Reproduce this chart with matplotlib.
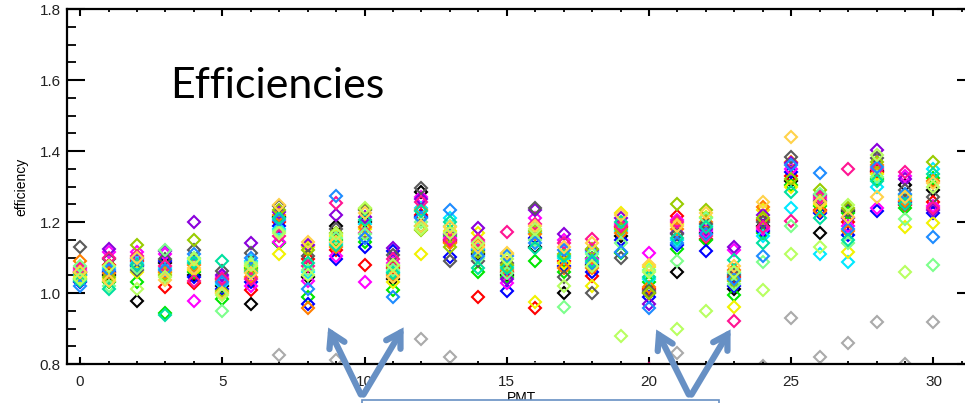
import numpy as np
import matplotlib
matplotlib.use('Agg')
import matplotlib.pyplot as plt
from matplotlib.patches import FancyArrowPatch, Rectangle

nan = np.nan

# PMT index on the x axis
pmt = list(range(31))

# efficiency per run, one list per run colour (value for PMT 0..30)
black = [1.05, 1.05, 0.978, 1.085, 1.05, 1.02, 0.969, 1.215, 1.045, 1.19, 1.20, 1.04, 1.285, 1.15, 1.11, 1.05,
         1.13, 0.999, 1.08, 1.16, 1.0, 1.06, 1.17, 1.01, 1.19, 1.315, 1.17, 1.23, 1.345, 1.305, 1.29]
red = [1.06, 1.08, 1.09, 1.016, 1.027, 1.04, 1.008, 1.20, 1.095, 1.12, 1.079, 1.07, 1.22, 1.145, 0.99, 1.06,
       0.957, 1.09, 1.048, 1.185, 1.01, 1.217, 1.151, 1.045, 1.205, 1.33, 1.234, 1.2, 1.34, 1.248, 1.255]
green = [1.04, 1.03, 1.032, 0.945, 1.06, 0.982, 1.07, 1.14, 0.99, 1.15, 1.145, 1.008, 1.19, 1.16, 1.06, 1.045,
         1.09, 1.06, 1.10, 1.112, 1.03, 1.125, 1.148, 0.995, 1.17, 1.305, 1.245, 1.225, 1.32, 1.24, 1.325]
blue = [1.03, 1.06, 1.075, 1.09, 1.045, 1.01, 1.03, 1.19, 0.97, 1.095, 1.13, 1.118, 1.215, 1.102, 1.12, 1.006,
        1.155, 1.075, 1.06, 1.15, 0.99, 1.135, 1.119, 1.02, 1.175, 1.34, 1.225, 1.163, 1.23, 1.255, 1.225]
magenta = [1.065, 1.115, 1.115, 1.11, 0.978, 1.045, 1.02, 1.145, 1.035, 1.105, 1.032, 1.085, 1.27, 1.155, 1.145,
           1.027, 1.21, 1.15, 1.095, 1.195, 1.114, 1.205, 1.175, 1.122, 1.18, 1.35, 1.265, 1.19, 1.239, 1.33, 1.245]
cyan = [1.05, 1.07, 1.085, 1.07, 1.09, 1.025, 1.09, 1.18, 1.06, 1.14, 1.195, 1.06, 1.24, 1.21, 1.125, 1.075,
        1.17, 1.1, 1.115, 1.175, 1.04, 1.15, 1.19, 1.055, 1.16, 1.239, 1.11, 1.088, 1.30, 1.265, 1.35]
yellow = [1.045, 1.04, 1.06, 1.055, 1.065, 1.0, 1.075, 1.11, 1.13, 1.16, 1.18, 1.03, 1.109, 1.175, 1.168, 1.11,
          0.975, 1.085, 1.021, 1.224, 1.072, 1.195, 1.215, 0.96, 1.235, 1.30, 1.25, 1.116, 1.335, 1.185, 1.198]
orange = [1.09, 1.055, 1.10, 1.06, 1.08, 1.035, 1.045, 1.22, 0.957, 1.13, 1.187, 1.05, 1.235, 1.14, 1.135, 1.065,
          1.165, 1.07, 1.07, 1.17, 1.018, 1.18, 1.2, 1.065, 1.243, 1.37, 1.23, 1.175, 1.36, 1.26, 1.315]
purple = [1.06, 1.125, 1.08, 1.117, 1.199, 1.05, 1.142, 1.229, 1.136, 1.22, 1.215, 1.126, 1.265, 1.165, 1.184,
          1.04, 1.233, 1.166, 1.12, 1.21, 0.968, 1.17, 1.18, 1.13, 1.22, 1.365, 1.275, 1.21, 1.403, 1.32, 1.235]
dgray = [1.13, 1.095, 1.065, 1.095, 1.122, 1.063, 1.114, 1.244, 1.105, 1.18, 1.234, 1.108, 1.295, 1.09, 1.09,
         1.085, 1.24, 1.046, 0.999, 1.098, 1.005, 1.165, 1.195, 1.05, 1.2, 1.384, 1.26, 1.235, 1.38, 1.29, 1.271]
ygreen = [1.055, 1.045, 1.135, 1.05, 1.149, 1.005, 1.065, 1.235, 1.12, 1.17, 1.237, 1.075, 1.177, 1.13, 1.115,
          1.08, 1.175, 1.11, 1.125, 1.18, 1.0, 1.251, 1.234, 1.035, 1.21, 1.32, 1.29, 1.24, 1.37, 1.275, 1.37]
dpink = [1.07, 1.10, 1.105, 1.075, 1.035, 1.04, 1.04, 1.16, 1.075, 1.253, 1.17, 1.095, 1.255, 1.15, 1.15, 1.171,
         1.195, 1.14, 1.151, 1.19, 0.785, 1.2, 1.16, 0.921, 1.185, 1.204, 1.27, 1.348, 1.35, 1.34, 1.24]
lgreen = [1.075, 1.02, 1.07, 1.122, 1.10, 0.95, 1.085, 1.175, 1.065, 1.155, 1.165, 1.065, 1.2, 1.19, 1.10, 1.055,
          1.15, 0.961, 1.11, 1.14, 1.065, 1.091, 1.21, 1.025, 1.088, 1.19, 1.28, 1.14, 1.328, 1.208, 1.079]
dblue = [1.02, 1.065, 1.095, 1.065, 1.11, 1.03, 1.10, 1.205, 1.012, 1.273, 1.155, 0.99, 1.21, 1.234, 1.105, 1.105,
         1.14, 1.12, 1.085, 1.116, 0.957, 1.14, 1.165, 1.04, 1.104, 1.36, 1.339, 1.18, 1.355, 1.28, 1.159]
spring = [1.035, 1.01, 1.08, 0.938, 1.085, 1.091, 1.06, 1.21, 1.085, 1.135, 1.205, 1.055, 1.23, 1.2, 1.07, 1.07,
          1.128, 1.105, 1.09, 1.2, 1.045, 1.155, 1.185, 1.093, 1.14, 1.285, 1.21, 1.15, 1.315, 1.25, 1.335]
gold = [1.06, 1.035, 1.10, 1.037, 1.07, 1.0, 1.055, 1.248, 1.145, 1.145, 1.225, 1.045, 1.19, 1.185, 1.13, 1.112,
        1.19, 1.13, 1.14, 1.22, 1.08, 1.19, 1.225, 1.075, 1.257, 1.439, 1.255, 1.215, 1.27, 1.27, 1.31]
lime = [1.04, 1.075, 1.01, 1.045, 1.095, 0.995, 1.08, 1.17, 1.05, 1.165, 1.24, 1.08, 1.18, 1.17, 1.14, 1.095,
        1.18, 1.02, 1.075, 0.88, 1.058, 0.90, 0.95, 1.06, 1.008, 1.109, 1.13, 1.248, 1.39, 1.06, 1.30]
lgray = [nan, nan, nan, nan, nan, nan, nan, 0.825, nan, 0.81, nan, nan, 0.87, 0.821, nan, nan,
         0.785, nan, nan, nan, nan, 0.83, nan, nan, 0.795, 0.929, 0.82, 0.86, 0.919, 0.80, 0.919]

runs = [black, red, green, blue, magenta, cyan, yellow, orange, purple, dgray,
        ygreen, dpink, lgreen, dblue, spring, gold, lime, lgray]
run_colors = ['#000000', '#ff0000', '#00e600', '#0000ff', '#ff00ff', '#00e8ff', '#f2f200', '#ff7f00',
              '#8a00dc', '#5a5a5a', '#99cc00', '#ff1493', '#7dff8c', '#1e8cff', '#00e0a0', '#ffd24a',
              '#b8ff60', '#aaaaaa']

W, H = 965, 403


def fx(px):
    return px / W


def fy(py):
    return 1 - py / H


fig = plt.figure(figsize=(W / 100, H / 100), dpi=100)
ax = fig.add_axes([fx(67), fy(364), 908 / W, 355 / H])

for vals, c in zip(runs, run_colors):
    ax.plot(pmt, vals, linestyle='none', marker='D', markersize=6.4,
            markerfacecolor='none', markeredgecolor=c, markeredgewidth=1.5)

ax.set_xlim(-0.46, 31.46)
ax.set_ylim(0.8, 1.8)
ax.set_xticks(range(0, 31, 5))
ax.set_xticks(range(0, 32), minor=True)
ax.set_yticks(np.arange(0.8, 1.81, 0.2))
ax.set_yticks(np.arange(0.8, 1.81, 0.05), minor=True)
ax.set_yticklabels(['0.8', '1.0', '1.2', '1.4', '1.6', '1.8'])

for s in ax.spines.values():
    s.set_linewidth(1.6)

# IDL style ticks, inward on all four sides
ax.tick_params(axis='x', which='major', direction='in', top=True, length=5, width=1.5, pad=8)
ax.tick_params(axis='x', which='minor', direction='in', top=True, length=2.5, width=1.3)
ax.tick_params(axis='y', which='major', direction='in', right=True, length=13, width=1.5, pad=4.5)
ax.tick_params(axis='y', which='minor', direction='in', right=True, length=6.5, width=1.3)
for lab in ax.get_xticklabels() + ax.get_yticklabels():
    lab.set_fontfamily('Liberation Sans')
    lab.set_fontsize(11)
    lab.set_color('#222222')

ax.set_ylabel('efficiency', fontsize=10, family='Liberation Sans', labelpad=8)
ax.set_xlabel('PMT', fontsize=10, family='Liberation Sans', labelpad=1)

fig.text(fx(170), fy(98), 'Efficiencies', fontsize=31, family='Lato', va='baseline', ha='left')

# slide annotation arrows and box
arrow_col = '#6790c4'
for base, tip in [((362, 397), (327, 325)), ((362, 397), (405, 325)),
                  ((690, 397), (655, 327)), ((690, 397), (732, 327))]:
    arr = FancyArrowPatch((fx(base[0]), fy(base[1])), (fx(tip[0]), fy(tip[1])),
                          transform=fig.transFigure, arrowstyle='->,head_length=10,head_width=6',
                          color=arrow_col, lw=4.5, mutation_scale=1, capstyle='round', joinstyle='miter')
    fig.add_artist(arr)

fig.add_artist(Rectangle((fx(362), fy(410)), fx(719) - fx(362), (410 - 400) / H,
                         transform=fig.transFigure, facecolor='white', edgecolor=arrow_col, lw=1.2, zorder=5))

fig.savefig('out.png', dpi=100)
